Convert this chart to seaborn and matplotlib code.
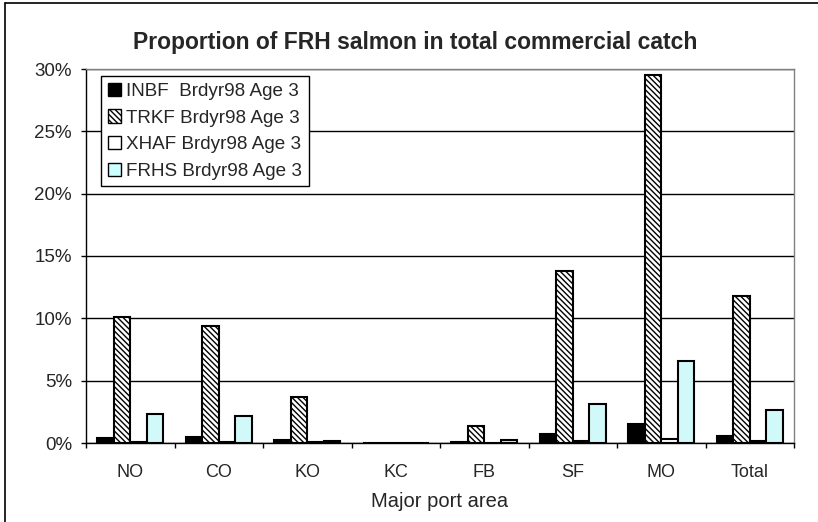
"""Grouped bar chart: proportion of FRH salmon in total commercial catch by port area."""

import numpy as np
import pandas as pd
import seaborn as sns
import matplotlib.pyplot as plt
from matplotlib.lines import Line2D
from matplotlib.patches import Patch
from matplotlib.ticker import PercentFormatter, FixedLocator

sns.set_style("white")
plt.rcParams['font.family'] = ['Liberation Sans', 'DejaVu Sans']
plt.rcParams['hatch.linewidth'] = 1.0
plt.rcParams['hatch.color'] = 'black'

# data
areas = ["NO", "CO", "KO", "KC", "FB", "SF", "MO", "Total"]
series = ["INBF  Brdyr98 Age 3", "TRKF Brdyr98 Age 3",
          "XHAF Brdyr98 Age 3", "FRHS Brdyr98 Age 3"]
inbf = [0.0038, 0.0045, 0.0025, 0.0, 0.0005, 0.0075, 0.0150, 0.0053]
trkf = [0.1010, 0.0940, 0.0365, 0.0, 0.0135, 0.1380, 0.2950, 0.1180]
xhaf = [0.0010, 0.0010, 0.0005, 0.0, 0.0002, 0.0020, 0.0030, 0.0013]
frhs = [0.0230, 0.0220, 0.0015, 0.0, 0.0025, 0.0315, 0.0655, 0.0265]

colors = ["black", "white", "white", "#CCFFFF"]
hatches = ["", "\\\\\\\\\\\\", "", ""]

df = pd.DataFrame({"area": areas, series[0]: inbf, series[1]: trkf,
                   series[2]: xhaf, series[3]: frhs})
long = df.melt(id_vars="area", var_name="series", value_name="value")

W, H = 818, 522
fig = plt.figure(figsize=(W / 100, H / 100), dpi=100)
ax = fig.add_axes([86 / W, 1 - 443 / H, (794 - 86) / W, (443 - 69) / H])

sns.barplot(data=long, x="area", y="value", hue="series", hue_order=series,
            palette=colors, edgecolor="black", linewidth=1.5, width=0.75,
            gap=0, legend=False, ax=ax, zorder=3)

for container, hatch in zip(ax.containers, hatches):
    for bar in container:
        bar.set_hatch(hatch)

# axes styling
ax.set_ylim(0, 0.30)
ax.set_xlim(-0.5, len(areas) - 0.5)
ax.set_yticks(np.arange(0, 0.301, 0.05))
ax.yaxis.set_major_formatter(PercentFormatter(1.0, decimals=0))
ax.yaxis.grid(True, color="black", linewidth=1.0, zorder=0)
ax.set_axisbelow(True)

ax.xaxis.set_minor_locator(FixedLocator(np.arange(-0.5, len(areas), 1.0)))
ax.tick_params(axis="x", which="major", length=0, pad=15, labelsize=13)
ax.tick_params(axis="x", which="minor", length=3.6, width=1, color="black",
               direction="out", bottom=True)
ax.tick_params(axis="y", length=3.6, width=1, color="black", direction="out",
               left=True, pad=6.5, labelsize=13.5)

for side in ["left", "bottom"]:
    ax.spines[side].set_color("black")
    ax.spines[side].set_linewidth(1.0)
for side in ["top", "right"]:
    ax.spines[side].set_color("#808080")
    ax.spines[side].set_linewidth(1.0)

ax.set_ylabel("")
ax.set_xlabel("Major port area", fontsize=14.5, labelpad=8)

handles = [Patch(facecolor=c, edgecolor="black", hatch=h, linewidth=1.0)
           for c, h in zip(colors, hatches)]
leg = ax.legend(handles, series, loc="upper left",
                bbox_to_anchor=((101 - 86) / 708, (443 - 76) / 374),
                borderaxespad=0, fontsize=13.6, frameon=True, fancybox=False,
                framealpha=1, edgecolor="black", handlelength=0.7,
                handleheight=0.7, handletextpad=0.3, labelspacing=0.5,
                borderpad=0.35)
leg.get_frame().set_linewidth(1.0)
leg.set_zorder(5)

fig.text(415 / W, 1 - 42 / H, "Proportion of FRH salmon in total commercial catch",
         ha="center", va="center", fontsize=16.5, fontweight="bold")

# outer chart border (left and top edges visible)
fig.add_artist(Line2D([5 / W, 5 / W], [0, 1 - 3 / H], color="black", linewidth=1.2))
fig.add_artist(Line2D([5 / W, 1], [1 - 3 / H, 1 - 3 / H], color="black", linewidth=1.2))

fig.savefig("out.png", dpi=100)
